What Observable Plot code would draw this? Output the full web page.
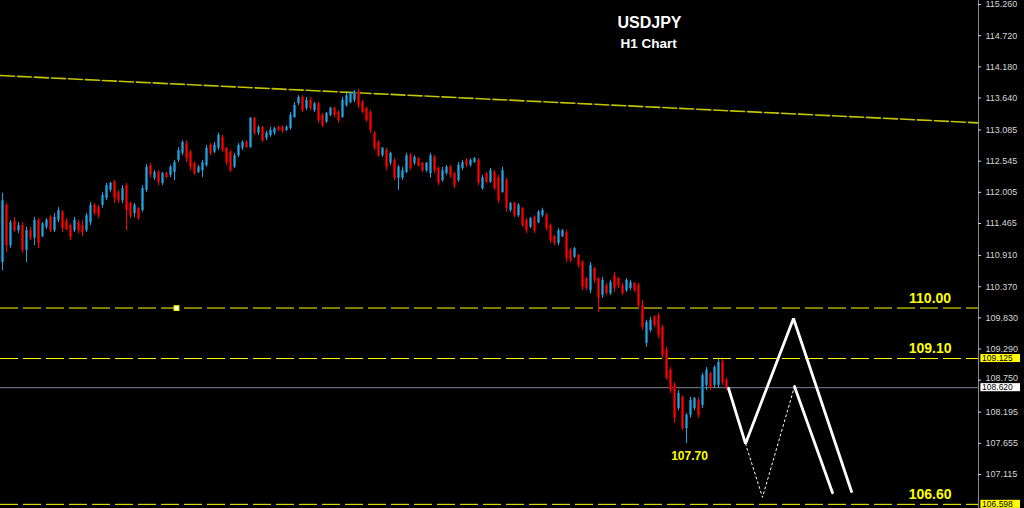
<!DOCTYPE html>
<html>
<head>
<meta charset="utf-8">
<script src="https://cdn.jsdelivr.net/npm/d3@7"></script>
<script src="https://cdn.jsdelivr.net/npm/@observablehq/plot@0.6"></script>
<style>
html, body { margin: 0; padding: 0; background: #000; }
#chart { width: 1024px; height: 508px; overflow: hidden; }
</style>
</head>
<body>
<div id="chart"></div>
<script>
// ---- H1 candles (USDJPY), one per bar ----
const opens = [110.79,111.78,111.08,111.50,111.34,111.43,111.00,111.34,111.21,111.52,
111.24,111.40,111.57,111.34,111.52,111.66,111.50,111.43,111.34,111.48,
111.43,111.34,111.48,111.78,111.74,111.78,111.90,112.04,112.18,112.00,
111.86,112.12,111.81,111.64,111.73,111.69,112.04,112.47,112.25,112.35,
112.16,112.33,112.30,112.35,112.56,112.68,112.85,112.70,112.51,112.35,
112.38,112.47,112.82,112.70,112.77,112.96,112.77,112.70,112.44,112.64,
112.77,112.87,112.78,113.29,113.03,113.13,112.94,112.99,113.03,113.13,
113.13,113.08,113.11,113.30,113.54,113.65,113.46,113.60,113.42,113.54,
113.34,113.22,113.34,113.46,113.39,113.30,113.51,113.56,113.60,113.74,
113.56,113.46,113.39,113.03,112.87,112.64,112.73,112.51,112.56,112.25,
112.25,112.35,112.64,112.51,112.59,112.51,112.38,112.33,112.61,112.42,
112.21,112.33,112.44,112.33,112.21,112.42,112.56,112.47,112.52,112.56,
112.07,112.33,112.18,112.35,112.26,112.00,112.21,111.69,111.81,111.60,
111.73,111.52,111.40,111.57,111.48,111.60,111.60,111.43,111.24,111.12,
111.24,111.31,111.00,110.88,110.91,110.79,110.51,110.30,110.69,110.51,
110.22,110.39,110.25,110.56,110.51,110.39,110.30,110.34,110.43,110.39,
110.04,109.39,109.61,109.84,109.87,109.66,109.27,108.92,108.66,108.26,
108.45,107.91,108.14,108.26,108.40,108.31,108.66,108.87,108.66,108.66,
109.06,108.75];
const highs = [111.99,111.81,111.52,111.57,111.48,111.48,111.40,111.40,111.57,111.55,
111.48,111.55,111.60,111.64,111.74,111.69,111.55,111.46,111.57,111.52,
111.52,111.64,111.83,111.81,111.78,112.00,112.16,112.18,112.21,112.04,
112.12,112.16,111.83,111.81,111.74,112.12,112.49,112.51,112.38,112.38,
112.35,112.35,112.47,112.56,112.78,112.90,112.90,112.73,112.52,112.47,
112.56,112.82,112.85,112.87,113.03,112.99,112.78,112.73,112.68,112.85,
112.90,112.90,113.30,113.30,113.16,113.15,113.06,113.13,113.13,113.15,
113.16,113.16,113.39,113.56,113.68,113.68,113.65,113.65,113.56,113.56,
113.37,113.39,113.48,113.48,113.42,113.65,113.72,113.74,113.77,113.79,
113.60,113.48,113.42,113.06,112.90,112.78,112.77,112.70,112.59,112.47,
112.44,112.68,112.68,112.64,112.61,112.52,112.52,112.68,112.64,112.44,
112.44,112.47,112.47,112.35,112.52,112.56,112.59,112.59,112.61,112.59,
112.30,112.35,112.42,112.38,112.30,112.44,112.25,111.83,111.83,111.81,
111.74,111.55,111.57,111.60,111.69,111.73,111.64,111.46,111.26,111.38,
111.36,111.34,111.03,111.05,110.93,110.82,110.53,110.79,110.70,110.53,
110.53,110.43,110.48,110.62,110.53,110.43,110.51,110.48,110.44,110.43,
110.13,109.79,109.84,109.87,109.91,109.70,109.32,108.97,108.71,108.57,
108.48,108.17,108.45,108.45,108.45,108.87,108.97,108.88,109.00,109.11,
109.11,108.78];
const lows = [110.65,110.96,111.03,111.31,111.29,110.95,110.79,111.17,111.08,111.03,
111.22,111.36,111.31,111.31,111.48,111.31,111.34,111.17,111.31,111.29,
111.24,111.31,111.43,111.60,111.55,111.73,111.86,112.00,111.81,111.81,
111.81,111.34,111.55,111.57,111.52,111.66,112.00,112.25,112.21,112.12,
112.12,112.25,112.26,112.21,112.52,112.64,112.52,112.38,112.30,112.33,
112.26,112.44,112.64,112.68,112.73,112.70,112.47,112.35,112.42,112.61,
112.73,112.77,112.77,112.99,112.99,112.87,112.90,112.96,112.99,113.06,
113.03,113.06,113.08,113.29,113.51,113.39,113.42,113.42,113.39,113.20,
113.13,113.20,113.32,113.30,113.20,113.29,113.48,113.54,113.56,113.46,
113.37,113.22,113.03,112.73,112.61,112.61,112.38,112.47,112.21,112.04,
112.21,112.33,112.38,112.47,112.44,112.35,112.35,112.25,112.33,112.12,
112.18,112.30,112.25,112.07,112.18,112.38,112.44,112.44,112.51,112.12,
112.04,112.16,112.16,112.04,111.81,111.99,111.66,111.66,111.57,111.57,
111.40,111.29,111.38,111.29,111.46,111.57,111.34,111.12,111.08,111.08,
111.22,110.79,110.79,110.86,110.69,110.30,110.30,110.25,110.43,109.92,
110.17,110.22,110.22,110.27,110.34,110.22,110.27,110.30,110.27,109.99,
109.61,109.32,109.58,109.66,109.47,109.13,108.75,108.52,108.00,108.22,
107.88,107.65,108.09,108.22,108.09,108.26,108.57,108.57,108.62,108.61,
108.66,108.57];
const closes = [111.86,111.08,111.48,111.34,111.43,111.00,111.34,111.21,111.52,111.12,
111.46,111.52,111.34,111.57,111.69,111.38,111.36,111.22,111.52,111.34,
111.31,111.60,111.78,111.64,111.60,111.95,112.12,112.16,111.90,111.86,
112.07,111.69,111.60,111.78,111.55,112.07,112.44,112.30,112.35,112.18,
112.33,112.26,112.44,112.52,112.73,112.87,112.59,112.44,112.33,112.44,
112.52,112.77,112.68,112.82,112.99,112.73,112.52,112.38,112.64,112.82,
112.87,112.78,113.29,113.03,113.13,112.90,113.03,113.08,113.11,113.08,
113.06,113.13,113.34,113.51,113.65,113.42,113.60,113.46,113.54,113.25,
113.16,113.37,113.46,113.34,113.25,113.60,113.68,113.72,113.74,113.51,
113.39,113.25,113.08,112.77,112.64,112.77,112.44,112.68,112.25,112.44,
112.38,112.64,112.42,112.61,112.47,112.38,112.51,112.64,112.38,112.16,
112.38,112.44,112.30,112.12,112.47,112.52,112.47,112.56,112.59,112.16,
112.26,112.18,112.38,112.07,111.86,112.38,111.73,111.81,111.60,111.78,
111.43,111.34,111.55,111.34,111.66,111.69,111.38,111.17,111.12,111.34,
111.34,110.86,110.82,111.03,110.74,110.36,110.34,110.74,110.48,110.17,
110.48,110.25,110.44,110.34,110.39,110.25,110.48,110.44,110.30,110.04,
109.66,109.75,109.79,109.70,109.52,109.18,108.78,108.57,108.09,108.52,
107.91,108.14,108.40,108.43,108.14,108.83,108.92,108.62,108.97,109.06,
108.71,108.62];

// ---- price axis ticks ----
const yTicks = [115.260,114.720,114.180,113.640,113.085,112.545,112.005,111.465,
  110.910,110.370,109.830,109.290,108.750,108.195,107.655,107.115];

// ---- horizontal levels and their labels ----
const levels = [110.00, 109.125, 106.598];
const levelLabels = ["110.00", "109.10", "106.60"];
const lastPrice = 108.620;
const boxLevels = [109.125, 108.620, 106.598];
const boxColors = ["#ffff00", "#ffffff", "#ffff00"];
const lowValue = 107.65;
const lowBar = 171;
const lowLabel = "107.70";
const markerBar = [43.5];
const markerPrice = [110.00];

// ---- long-term trend line (bar index, price) ----
const trendBars = [-0.5, 244];
const trendPrices = [114.03, 113.21];

// ---- projected path (bar index, price) ----
const projABars = [181.5, 185.75, 197.75, 212.25];
const projAPrices = [108.61, 107.65, 109.82, 106.82];
const projBBars = [198, 207.5];
const projBPrices = [108.64, 106.80];
const projDBars = [185.75, 190, 198];
const projDPrices = [107.65, 106.72, 108.64];

const title = "USDJPY";
const subtitle = "H1 Chart";

// ---- build tables ----
const bars = opens.map((o, i) => ({i, o, h: highs[i], l: lows[i], c: closes[i], up: closes[i] >= o}));
const bulls = bars.filter(d => d.up);
const bears = bars.filter(d => !d.up);
const trend = trendBars.map((b, k) => ({b, p: trendPrices[k]}));
const projA = projABars.map((b, k) => ({b, p: projAPrices[k]}));
const projB = projBBars.map((b, k) => ({b, p: projBPrices[k]}));
const projD = projDBars.map((b, k) => ({b, p: projDPrices[k]}));
const lvl = levels.map((v, k) => ({v, t: levelLabels[k]}));
const boxes = boxLevels.map((v, k) => ({v, bg: boxColors[k]}));
const marker = markerBar.map((b, k) => ({b, p: markerPrice[k]}));

// tick labels: the one just above the last-price box is nudged up so it stays readable
const nearBox = v => Math.abs(v - lastPrice) < 0.2;
const ticksFree = yTicks.filter(v => !nearBox(v));
const ticksNudged = yTicks.filter(v => nearBox(v));

const xMax = 244;
const font = "'Liberation Sans', Arial, sans-serif";
const axisColor = "#d6d6d6";

const chart = Plot.plot({
  width: 1024,
  height: 508,
  marginLeft: 0,
  marginRight: 46,
  marginTop: 0,
  marginBottom: 0,
  style: {background: "#000", fontFamily: font},
  x: {type: "linear", domain: [-0.5, xMax], axis: null},
  y: {type: "linear", domain: [106.526, 115.33], axis: null},
  color: {type: "identity"},
  marks: [
    Plot.ruleY(levels, {stroke: "#ffff00", strokeWidth: 1, strokeDasharray: "18,5"}),
    Plot.ruleY([lastPrice], {stroke: "#7d8893", strokeWidth: 1}),
    Plot.line(trend, {x: "b", y: "p", stroke: "#c4c400", strokeWidth: 1.6, strokeDasharray: "14,3"}),
    Plot.dot(marker, {x: "b", y: "p", symbol: "square", r: 2.6, fill: "#ffffff", stroke: "#ffff00", strokeWidth: 1.2}),
    // candle bodies
    Plot.ruleX(bulls, {x: "i", y1: "o", y2: "c", stroke: "#16698f", strokeWidth: 3}),
    Plot.ruleX(bears, {x: "i", y1: "o", y2: "c", stroke: "#a00000", strokeWidth: 3}),
    // wicks
    Plot.ruleX(bulls, {x: "i", y1: "l", y2: "h", stroke: "#1ea4e6", strokeWidth: 1}),
    Plot.ruleX(bears, {x: "i", y1: "l", y2: "h", stroke: "#ff0000", strokeWidth: 1}),
    // projection
    Plot.line(projD, {x: "b", y: "p", stroke: "#ffffff", strokeWidth: 1, strokeDasharray: "2,3"}),
    Plot.line(projA, {x: "b", y: "p", stroke: "#ffffff", strokeWidth: 2.8, strokeLinejoin: "miter"}),
    Plot.line(projB, {x: "b", y: "p", stroke: "#ffffff", strokeWidth: 2.8}),
    // level labels
    Plot.text(lvl, {x: 231.9, y: "v", text: "t", dy: -10, fill: "#ffff00", fontSize: 14, fontWeight: "bold"}),
    Plot.text([lowLabel], {x: lowBar, y: lowValue, text: d => d, dx: 3, dy: 13, fill: "#ffff00", fontSize: 12, fontWeight: "bold"}),
    // price axis
    Plot.ruleX([xMax], {stroke: "#8a8a8a", strokeWidth: 1}),
    Plot.ruleY(yTicks, {x1: xMax, x2: xMax + 0.75, stroke: axisColor}),
    Plot.text(ticksFree, {x: xMax, y: d => d, text: d => d.toFixed(3), dx: 7, textAnchor: "start", fill: axisColor, fontSize: 9}),
    Plot.text(ticksNudged, {x: xMax, y: d => d, text: d => d.toFixed(3), dx: 7, dy: -2, textAnchor: "start", fill: axisColor, fontSize: 9}),
    Plot.rect(boxes, {x1: 244.6, x2: 254.5, y1: d => d.v - 0.07, y2: d => d.v + 0.07, fill: "bg"}),
    Plot.text(boxes, {x: 244.9, y: "v", text: d => d.v.toFixed(3), textAnchor: "start", fill: "#000", fontSize: 8.5}),
    // title
    Plot.text([title], {frameAnchor: "top-left", dx: 617, dy: 22, lineAnchor: "middle", text: d => d, fill: "#ffffff", fontSize: 16, fontWeight: "bold"}),
    Plot.text([subtitle], {frameAnchor: "top-left", dx: 620, dy: 43, lineAnchor: "middle", text: d => d, fill: "#ffffff", fontSize: 13.5, fontWeight: "bold"})
  ]
});
document.getElementById("chart").appendChild(chart);
</script>
</body>
</html>
